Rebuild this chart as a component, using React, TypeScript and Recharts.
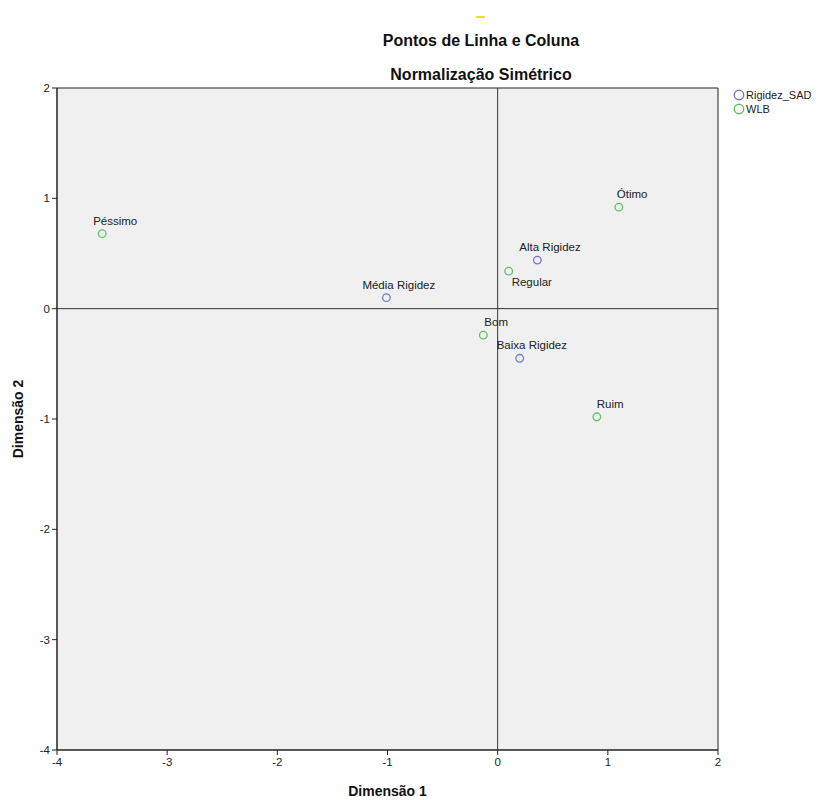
import React from 'react';
import {
  ScatterChart,
  Scatter,
  XAxis,
  YAxis,
  ReferenceLine,
  ReferenceArea,
  Legend,
} from 'recharts';

// Row points (Rigidez_SAD)
const rigidezNames = ['Alta Rigidez', 'Média Rigidez', 'Baixa Rigidez'];
const rigidezDim1 = [0.36, -1.01, 0.2];
const rigidezDim2 = [0.44, 0.1, -0.45];

// Column points (WLB)
const wlbNames = ['Ótimo', 'Bom', 'Regular', 'Ruim', 'Péssimo'];
const wlbDim1 = [1.1, -0.13, 0.1, 0.9, -3.59];
const wlbDim2 = [0.92, -0.24, 0.34, -0.98, 0.68];

const axisTicks = [-4, -3, -2, -1, 0, 1, 2];

const FONT = '"Liberation Sans", Arial, sans-serif';
const BLUE = '#6f78cc';
const GREEN = '#5cc25c';

// label placement relative to the marker: [dx to text start, dy to text center]
const LABEL_OFFSET: Record<string, [number, number]> = {
  'Alta Rigidez': [-18, -13],
  'Média Rigidez': [-24, -13],
  'Baixa Rigidez': [-23, -13],
  'Ótimo': [-2, -13],
  'Bom': [1, -13],
  'Regular': [3, 11],
  'Ruim': [0, -13],
  'Péssimo': [-9, -13],
};

const rigidezData = rigidezNames.map((name, i) => ({ name, x: rigidezDim1[i], y: rigidezDim2[i] }));
const wlbData = wlbNames.map((name, i) => ({ name, x: wlbDim1[i], y: wlbDim2[i] }));

const makeShape = (color: string) => (props: any) => {
  const { cx, cy, payload } = props;
  const [dx, dy] = LABEL_OFFSET[payload.name] || [0, -13];
  return (
    <g>
      <circle cx={cx} cy={cy} r={3.8} fill="none" stroke={color} strokeWidth={1.3} />
      <text
        x={cx + dx}
        y={cy + dy}
        dominantBaseline="central"
        fontSize={11.5}
        fontFamily={FONT}
        fill="#222"
      >
        {payload.name}
      </text>
    </g>
  );
};

const LegendBox = () => (
  <div style={{ fontFamily: FONT, fontSize: 11, color: '#222', lineHeight: '14px' }}>
    {[
      { label: 'Rigidez_SAD', color: BLUE },
      { label: 'WLB', color: GREEN },
    ].map((item) => (
      <div key={item.label} style={{ display: 'flex', alignItems: 'center' }}>
        <svg width={12} height={12} style={{ marginRight: 1 }}>
          <circle cx={6} cy={6} r={4.7} fill="none" stroke={item.color} strokeWidth={1.4} />
        </svg>
        <span>{item.label}</span>
      </div>
    ))}
  </div>
);

export default function App() {
  return (
    <div style={{ position: 'absolute', left: 0, top: 0, width: 819, height: 800, background: '#fff' }}>
      {/* small yellow mark above the title */}
      <div style={{ position: 'absolute', left: 476, top: 16, width: 9, height: 2, background: '#f5d63c' }} />
      <div
        style={{
          position: 'absolute',
          left: 0,
          width: 962,
          top: 31,
          textAlign: 'center',
          fontFamily: FONT,
          fontWeight: 'bold',
          fontSize: 16,
          color: '#111',
          lineHeight: '20px',
        }}
      >
        <div>Pontos de Linha e Coluna</div>
        <div style={{ marginTop: 14 }}>Normalização Simétrico</div>
      </div>

      <ScatterChart width={819} height={800} margin={{ top: 88, right: 101, bottom: 0, left: 0 }}>
        <ReferenceArea x1={-4} x2={2} y1={-4} y2={2} fill="#f0f0f0" fillOpacity={1} stroke="#222" strokeWidth={1} />
        <XAxis
          type="number"
          dataKey="x"
          domain={[-4, 2]}
          ticks={axisTicks}
          allowDataOverflow
          height={50}
          axisLine={{ stroke: '#222' }}
          tickLine={{ stroke: '#222' }}
          tickSize={5}
          tickMargin={3}
          tick={{ fontSize: 11.5, fill: '#222', fontFamily: FONT }}
          label={{
            value: 'Dimensão 1',
            position: 'insideBottom',
            offset: 4,
            style: { fontSize: 14, fontWeight: 'bold', fill: '#111', fontFamily: FONT },
          }}
        />
        <YAxis
          type="number"
          dataKey="y"
          domain={[-4, 2]}
          ticks={axisTicks}
          allowDataOverflow
          width={57}
          axisLine={{ stroke: '#222' }}
          tickLine={{ stroke: '#222' }}
          tickSize={5}
          tick={{ fontSize: 11.5, fill: '#222', fontFamily: FONT }}
          label={{
            value: 'Dimensão 2',
            angle: -90,
            position: 'insideLeft',
            offset: 18,
            style: { fontSize: 14, fontWeight: 'bold', fill: '#111', fontFamily: FONT, textAnchor: 'middle' },
          }}
        />
        <ReferenceLine x={0} stroke="#333" strokeWidth={1} />
        <ReferenceLine y={0} stroke="#333" strokeWidth={1} />
        <Legend
          layout="horizontal"
          verticalAlign="middle"
          align="center"
          content={<LegendBox />}
          wrapperStyle={{ position: 'absolute', left: 733, top: 88, width: 90, height: 30 }}
        />
        <Scatter
          name="Rigidez_SAD"
          data={rigidezData}
          shape={makeShape(BLUE)}
          isAnimationActive={false}
        />
        <Scatter
          name="WLB"
          data={wlbData}
          shape={makeShape(GREEN)}
          isAnimationActive={false}
        />
      </ScatterChart>
    </div>
  );
}
